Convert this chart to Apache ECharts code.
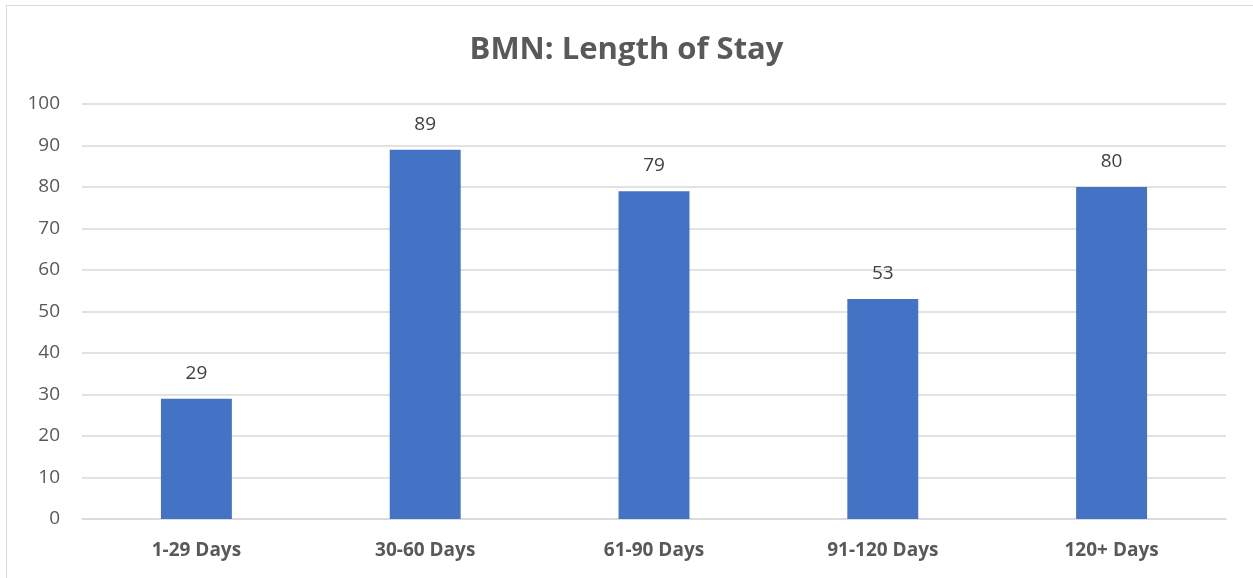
<!DOCTYPE html>
<html>
<head>
<meta charset="utf-8">
<script src="https://cdn.jsdelivr.net/npm/echarts@6/dist/echarts.min.js"></script>
<style>
html,body{margin:0;padding:0;background:#fff;}
#frame{position:absolute;left:6px;top:5px;width:1260px;height:590px;border:1px solid #d9d9d9;box-sizing:border-box;}
#chart{position:absolute;left:0;top:0;width:1253px;height:578px;}
</style>
</head>
<body>
<div id="frame"></div>
<div id="chart"></div>
<script>
const title = 'BMN: Length of Stay';
const categories = ['1-29 Days', '30-60 Days', '61-90 Days', '91-120 Days', '120+ Days'];
const values = [29, 89, 79, 53, 80];
const yTicks = { min: 0, max: 100, interval: 10 };

const font = 'Open Sans, Liberation Sans, sans-serif';
const chart = echarts.init(document.getElementById('chart'), null, { renderer: 'canvas' });
chart.setOption({
  animation: false,
  title: {
    text: title,
    left: 'center',
    top: 30,
    textStyle: { fontFamily: font, fontSize: 31, fontWeight: 'bold', color: '#595959' }
  },
  grid: { left: 82, right: 27, top: 104, bottom: 59, containLabel: false },
  xAxis: {
    type: 'category',
    data: categories,
    axisLine: { show: true, lineStyle: { color: '#d9d9d9', width: 1.5 } },
    axisTick: { show: false },
    axisLabel: { fontFamily: font, fontSize: 19, fontWeight: 'bold', color: '#595959', margin: 22 }
  },
  yAxis: {
    type: 'value',
    min: yTicks.min, max: yTicks.max, interval: yTicks.interval,
    axisLine: { show: false },
    axisTick: { show: false },
    splitLine: { lineStyle: { color: '#d9d9d9', width: 1.5 } },
    axisLabel: { fontFamily: font, fontSize: 19, color: '#595959', margin: 22 }
  },
  series: [{
    type: 'bar',
    data: values,
    barWidth: '31%',
    itemStyle: { color: '#4472C4' },
    label: { show: true, position: 'top', distance: 16, fontFamily: font, fontSize: 19, color: '#404040' }
  }]
});
</script>
</body>
</html>
